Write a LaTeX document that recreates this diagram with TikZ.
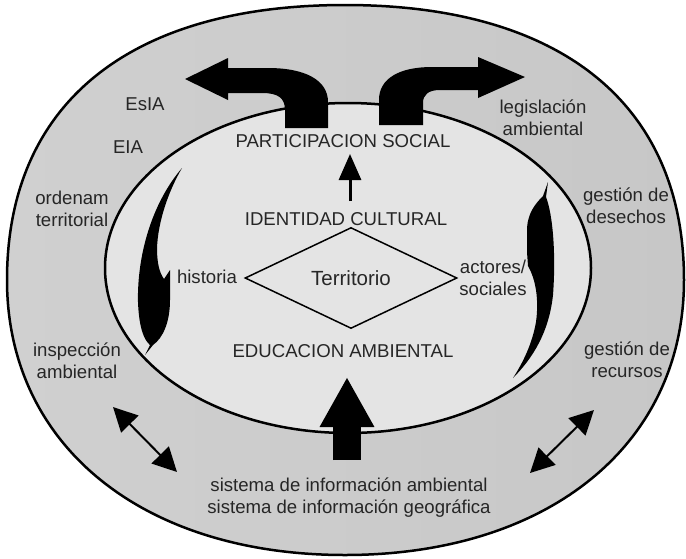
\documentclass[tikz,border=0pt]{standalone}
\usepackage{fontspec}
\setmainfont{Liberation Sans}
\usetikzlibrary{arrows.meta,shapes.geometric}
\definecolor{ringL}{HTML}{D0D0D0}
\definecolor{ringR}{HTML}{C7C7C7}
\definecolor{innerfill}{HTML}{E4E4E4}
\definecolor{txt}{HTML}{262626}
\begin{document}
\begin{tikzpicture}[x=1pt,y=-1pt,
  lbl/.style={font=\fontsize{18.6}{21.5}\selectfont, text=txt, inner sep=0pt, align=center, anchor=base},
  blob/.style={fill=black, draw=none},
  dbl/.style={{Triangle[length=24pt,width=24pt]}-{Triangle[length=24pt,width=24pt]}, line width=2pt},
  ringline/.style={draw=black, line width=2.5pt}
]
\path[use as bounding box] (0,0) rectangle (686,558);

% rings
\path[ringline, left color=ringL, right color=ringR] (345,5) .. controls (561,5) and (684,104) .. (684,280) .. controls (684,445) and (548,555) .. (345,555) .. controls (142,555) and (7,445) .. (7,280) .. controls (7,104) and (129,5) .. (345,5) -- cycle;
\path[ringline, fill=innerfill] (348,268) ellipse [x radius=243pt, y radius=165pt];

% top curved arrows
\fill[blob] (285,128) -- (285,110) .. controls (285,98) and (278,93) .. (262,93) -- (228,93) -- (228,100) -- (185,79) -- (228,58) -- (228,68) -- (268,68) .. controls (305,68) and (328,80) .. (328,102) -- (328,128) -- cycle;
\fill[blob] (379,125) -- (379,100) .. controls (379,78) and (400,67) .. (432,67) -- (478,67) -- (478,57) -- (525,77) -- (478,98) -- (478,90) -- (440,90) .. controls (428,90) and (423,95) .. (423,103) -- (423,125) -- cycle;

% crescents
\fill[blob] (182,168) .. controls (152,203) and (137,255) .. (138,302) .. controls (139,328) and (144,340) .. (150,345) -- (145,355) -- (153,345) .. controls (163,338) and (170,322) .. (170,300) -- (170,270) -- (164,279) .. controls (159,272) and (157,262) .. (157,248) .. controls (158,222) and (168,192) .. (182,168) -- cycle;
\fill[blob] (548,182) -- (543,196) .. controls (535,204) and (528,213) .. (527,228) -- (527,252) -- (528,266) .. controls (536,280) and (539,300) .. (536,322) .. controls (532,345) and (522,364) .. (513,378) .. controls (533,358) and (549,332) .. (553,295) .. controls (556,255) and (553,215) .. (546,197) -- cycle;

% texts
\node[lbl] (part) at (343,147) {PARTICIPACION SOCIAL};
\node[lbl] (ident) at (346,225) {IDENTIDAD CULTURAL};
\node[lbl] (educ) at (343,357) {EDUCACION AMBIENTAL};
\node[diamond, draw=black, line width=1.5pt, inner sep=0pt, minimum width=212pt, minimum height=101pt, aspect=2.1, font=\fontsize{20.5}{24}\selectfont, text=txt] (terr) at (351,278) {Territorio};
\node[lbl] (hist) at (207,283) {historia};
\node[lbl] (act) at (493,295) {actores/\\sociales};
\node[lbl] (esia) at (145,110) {EsIA};
\node[lbl] (eia) at (128,153) {EIA};
\node[lbl] (orden) at (72,226) {ordenam\\territorial};
\node[lbl] (insp) at (77,378) {inspección\\ambiental};
\node[lbl] (legis) at (543,135) {legislación\\ambiental};
\node[lbl] (desech) at (626,223) {gestión de\\desechos};
\node[lbl] (recur) at (627,377) {gestión de\\recursos};
\node[lbl] (sist) at (349,513) {sistema de información ambiental\\sistema de información geográfica};

% arrows
\coordinate (sa1) at (350,201);
\coordinate (sa2) at (350,154);
\draw[line width=3pt, -{Triangle[length=26pt,width=22pt]}] (sa1) -- (sa2);
\coordinate (ba1) at (347,460);
\coordinate (ba2) at (347,377);
\draw[line width=28pt, -{Triangle[length=50pt,width=51pt]}] (ba1) -- (ba2);
\coordinate (dl1) at (113,407);
\coordinate (dl2) at (177,472);
\draw[dbl] (dl1) -- (dl2);
\coordinate (dr1) at (594,410);
\coordinate (dr2) at (530,473);
\draw[dbl] (dr1) -- (dr2);
\end{tikzpicture}
\end{document}
